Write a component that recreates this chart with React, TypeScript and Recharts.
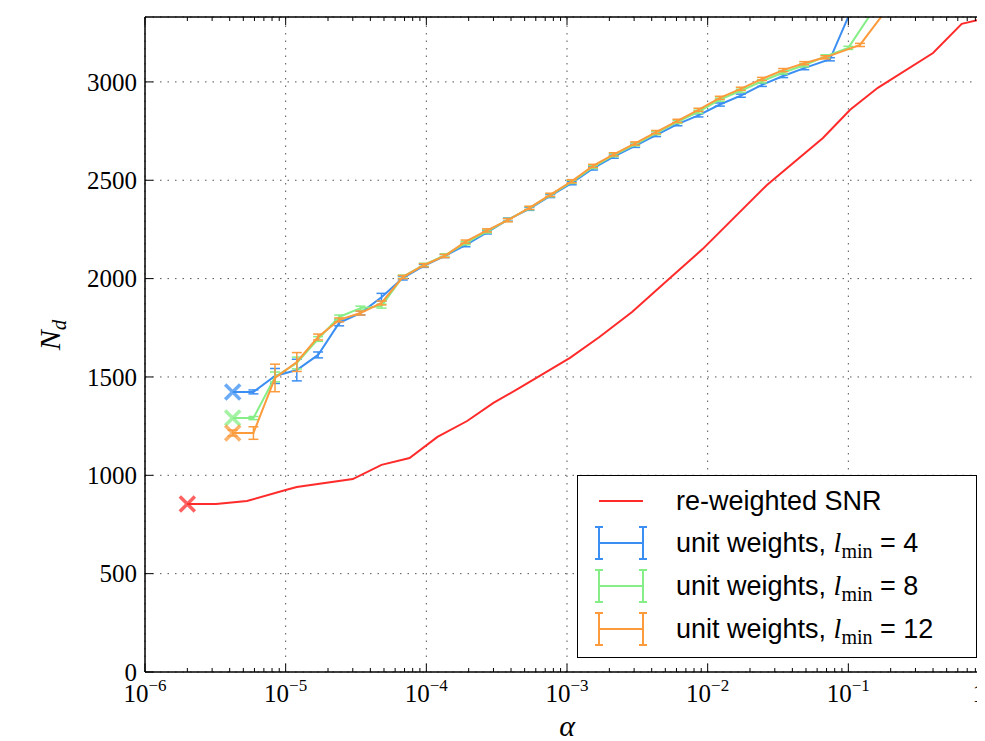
import React from 'react';
import { LineChart, Line, XAxis, YAxis, CartesianGrid, ErrorBar, Legend, ReferenceLine } from 'recharts';

const decades = [1e-6, 1e-5, 1e-4, 1e-3, 1e-2, 1e-1, 1];
const decadeExp = ['\u22126', '\u22125', '\u22124', '\u22123', '\u22122', '\u22121', ''];
const yTicks = [0, 500, 1000, 1500, 2000, 2500, 3000];

const snrAlpha = [2e-6, 3.2e-6, 5.3e-6, 1.0e-5, 1.2e-5, 3.0e-5, 4.8e-5, 7.6e-5, 1.2e-4, 1.95e-4, 3.0e-4, 4.6e-4, 1.05e-3, 1.7e-3, 2.9e-3, 5.4e-3, 9.2e-3, 2.64e-2, 6.6e-2, 0.103, 0.162, 0.4, 0.64, 0.9, 1.0];
const snrNd = [854, 854, 869, 925, 940, 981, 1053, 1088, 1195, 1276, 1368, 1444, 1597, 1703, 1830, 2003, 2150, 2476, 2715, 2858, 2970, 3147, 3295, 3320, 3325];

const l4Alpha = [4.2e-6, 5.9e-6, 8.4e-6, 1.2e-5, 1.7e-5, 2.4e-5, 3.4e-5, 4.8e-5, 6.8e-5, 9.6e-5, 1.35e-4, 1.9e-4, 2.7e-4, 3.8e-4, 5.4e-4, 7.6e-4, 1.08e-3, 1.53e-3, 2.15e-3, 3.05e-3, 4.3e-3, 6.1e-3, 8.6e-3, 1.22e-2, 1.72e-2, 2.43e-2, 3.44e-2, 4.86e-2, 7.4e-2, 0.11];
const l4Nd = [1424, 1424, 1505, 1535, 1612, 1775, 1825, 1905, 2003, 2065, 2115, 2170, 2235, 2300, 2355, 2420, 2485, 2560, 2620, 2675, 2730, 2785, 2830, 2885, 2930, 2985, 3030, 3070, 3115, 3400];
const l4Err = [0, 10, 38, 55, 15, 15, 10, 20, 10, 8, 8, 8, 8, 8, 8, 8, 8, 8, 8, 8, 8, 8, 8, 8, 8, 8, 8, 8, 8, 0];

const l8Alpha = [4.2e-6, 5.9e-6, 8.4e-6, 1.2e-5, 1.7e-5, 2.4e-5, 3.4e-5, 4.8e-5, 6.8e-5, 9.6e-5, 1.35e-4, 1.9e-4, 2.7e-4, 3.8e-4, 5.4e-4, 7.6e-4, 1.08e-3, 1.53e-3, 2.15e-3, 3.05e-3, 4.3e-3, 6.1e-3, 8.6e-3, 1.22e-2, 1.72e-2, 2.43e-2, 3.44e-2, 4.86e-2, 6.87e-2, 0.1, 0.16];
const l8Nd = [1291, 1291, 1500, 1571, 1693, 1805, 1850, 1860, 2010, 2070, 2118, 2180, 2240, 2298, 2358, 2424, 2492, 2568, 2628, 2683, 2740, 2797, 2848, 2910, 2955, 3003, 3048, 3085, 3130, 3173, 3393];
const l8Err = [0, 8, 25, 30, 12, 10, 10, 10, 8, 8, 8, 8, 8, 8, 8, 8, 8, 8, 8, 8, 8, 8, 8, 8, 8, 8, 8, 8, 8, 8, 0];

const l12Alpha = [4.2e-6, 5.9e-6, 8.4e-6, 1.2e-5, 1.7e-5, 2.4e-5, 3.4e-5, 4.8e-5, 6.8e-5, 9.6e-5, 1.35e-4, 1.9e-4, 2.7e-4, 3.8e-4, 5.4e-4, 7.6e-4, 1.08e-3, 1.53e-3, 2.15e-3, 3.05e-3, 4.3e-3, 6.1e-3, 8.6e-3, 1.22e-2, 1.72e-2, 2.43e-2, 3.44e-2, 4.86e-2, 6.87e-2, 0.121, 0.21];
const l12Nd = [1215, 1215, 1495, 1576, 1703, 1790, 1825, 1876, 2008, 2068, 2115, 2188, 2245, 2297, 2360, 2426, 2495, 2573, 2632, 2687, 2745, 2802, 2858, 2919, 2965, 3015, 3060, 3095, 3125, 3188, 3415];
const l12Err = [15, 32, 70, 48, 15, 10, 10, 10, 8, 8, 8, 8, 8, 8, 8, 8, 8, 8, 8, 8, 8, 8, 8, 8, 8, 8, 8, 8, 8, 8, 0];

const legendLabels = ['re-weighted SNR', 'unit weights, ', 'unit weights, ', 'unit weights, '];
const legendLmin = ['', '4', '8', '12'];

const COLORS = { red: '#ff2b2b', blue: '#3b8ff2', green: '#86ee86', orange: '#fb9b3c' };

const build = (a: number[], v: number[], e?: number[]) =>
  a.map((x, i) => ({ a: x, v: v[i], e: e ? e[i] : 0 }));

const snrData = build(snrAlpha, snrNd);
const l4Data = build(l4Alpha, l4Nd, l4Err);
const l8Data = build(l8Alpha, l8Nd, l8Err);
const l12Data = build(l12Alpha, l12Nd, l12Err);

const minorTicks: number[] = [];
decades.slice(0, -1).forEach((d) => {
  for (let k = 1; k <= 9; k++) minorTicks.push(d * k);
});
minorTicks.push(1);

const SERIF = '"Liberation Serif", "DejaVu Serif", serif';
const SANS = '"Liberation Sans", Arial, sans-serif';

const decadeIndex = (v: number) =>
  decades.findIndex((d) => Math.abs(Math.log10(d) - Math.log10(v)) < 1e-6);

const BottomTick = (props: any) => {
  const { x, y, payload } = props;
  const idx = decadeIndex(payload.value);
  const major = idx >= 0;
  const isOne = major && decadeExp[idx] === '';
  return (
    <g>
      <line x1={x} x2={x} y1={y} y2={y - (major ? 8 : 4)} stroke="#000" strokeWidth={1} />
      {major && (
        <text
          x={isOne ? x - 4 : x}
          y={y + 30}
          textAnchor={isOne ? 'end' : 'middle'}
          fontFamily={SERIF}
          fontSize={25}
          fill="#000"
        >
          {isOne ? '1' : '10'}
          {!isOne && (
            <tspan dy={-11} fontSize={17}>
              {decadeExp[idx]}
            </tspan>
          )}
        </text>
      )}
    </g>
  );
};

const TopTick = (props: any) => {
  const { x, y, payload } = props;
  const major = decadeIndex(payload.value) >= 0;
  return <line x1={x} x2={x} y1={y} y2={y + (major ? 8 : 4)} stroke="#000" strokeWidth={1} />;
};

const LeftTick = (props: any) => {
  const { x, y, payload } = props;
  return (
    <g>
      <line x1={x} x2={x + 8} y1={y} y2={y} stroke="#000" strokeWidth={1} />
      <text x={x - 8} y={y} dy="0.35em" textAnchor="end" fontFamily={SERIF} fontSize={25} fill="#000">
        {payload.value}
      </text>
    </g>
  );
};

const RightTick = (props: any) => {
  const { x, y } = props;
  return <line x1={x} x2={x - 8} y1={y} y2={y} stroke="#000" strokeWidth={1} />;
};

const makeMarker = (color: string) => (props: any) => {
  const { cx, cy, index } = props;
  if (index !== 0 || cx == null || cy == null) return <g key={`m-${index}`} />;
  const s = 7.5;
  return (
    <g key={`m-${index}`} opacity={0.75}>
      <line x1={cx - s} y1={cy - s} x2={cx + s} y2={cy + s} stroke={color} strokeWidth={3.5} />
      <line x1={cx - s} y1={cy + s} x2={cx + s} y2={cy - s} stroke={color} strokeWidth={3.5} />
    </g>
  );
};

const ErrIcon = ({ y, color }: { y: number; color: string }) => (
  <g stroke={color} strokeWidth={2}>
    <line x1={21} x2={65} y1={y} y2={y} />
    <line x1={21} x2={21} y1={y - 16} y2={y + 16} />
    <line x1={65} x2={65} y1={y - 16} y2={y + 16} />
    <line x1={17} x2={25} y1={y - 16} y2={y - 16} />
    <line x1={17} x2={25} y1={y + 16} y2={y + 16} />
    <line x1={61} x2={69} y1={y - 16} y2={y - 16} />
    <line x1={61} x2={69} y1={y + 16} y2={y + 16} />
  </g>
);

const LegendBox = () => {
  const rows = [25, 67, 110, 153];
  const cols = [COLORS.red, COLORS.blue, COLORS.green, COLORS.orange];
  return (
    <div style={{ width: 400, height: 183, boxSizing: 'border-box', border: '1.5px solid #000', background: '#fff' }}>
      <svg width={397} height={180} style={{ display: 'block' }}>
        <line x1={21} x2={65} y1={rows[0]} y2={rows[0]} stroke={COLORS.red} strokeWidth={2} />
        {rows.slice(1).map((r, i) => (
          <ErrIcon key={i} y={r} color={cols[i + 1]} />
        ))}
        {rows.map((r, i) => (
          <text key={`t${i}`} x={98} y={r + 9} fontFamily={SANS} fontSize={27} fill="#000">
            {legendLabels[i]}
            {i > 0 && (
              <>
                <tspan fontFamily={SERIF} fontStyle="italic" fontSize={28}>l</tspan>
                <tspan fontFamily={SERIF} fontSize={20} dy={6}>min</tspan>
                <tspan dy={-6}>{' = ' + legendLmin[i]}</tspan>
              </>
            )}
          </text>
        ))}
      </svg>
    </div>
  );
};

export default function App() {
  return (
    <div style={{ width: 977, height: 733, overflow: 'hidden', position: 'relative' }}>
      <LineChart width={990} height={733} margin={{ top: 8, right: 8, left: 0, bottom: 0 }}>
        <CartesianGrid
          stroke="#555"
          strokeDasharray="1.5 6"
          strokeWidth={1}
          xAxisId="b"
          yAxisId="l"
          vertical={false}
        />
        {decades.map((d) => (
          <ReferenceLine
            key={`g${d}`}
            x={d}
            xAxisId="b"
            yAxisId="l"
            stroke="#555"
            strokeDasharray="1.5 6"
            strokeWidth={1}
          />
        ))}
        <XAxis
          xAxisId="b"
          dataKey="a"
          type="number"
          scale="log"
          domain={[1e-6, 1]}
          allowDataOverflow
          ticks={minorTicks}
          interval={0}
          tickSize={0}
          tickMargin={0}
          tickLine={false}
          axisLine={{ stroke: '#000', strokeWidth: 1.5 }}
          tick={<BottomTick />}
          height={69}
          label={{
            content: () => (
              <text x={559} y={728} textAnchor="middle" fontFamily={SERIF} fontStyle="italic" fontSize={30} fill="#000">
                α
              </text>
            ),
          }}
        />
        <XAxis
          xAxisId="t"
          dataKey="a"
          orientation="top"
          type="number"
          scale="log"
          domain={[1e-6, 1]}
          allowDataOverflow
          ticks={minorTicks}
          interval={0}
          tickSize={0}
          tickMargin={0}
          tickLine={false}
          axisLine={{ stroke: '#000', strokeWidth: 1.5 }}
          tick={<TopTick />}
          height={1}
        />
        <YAxis
          yAxisId="l"
          type="number"
          domain={[0, 3330]}
          allowDataOverflow
          ticks={yTicks}
          interval={0}
          tickSize={0}
          tickMargin={0}
          tickLine={false}
          axisLine={{ stroke: '#000', strokeWidth: 1.5 }}
          tick={<LeftTick />}
          width={137}
          label={{
            content: () => (
              <text
                x={52}
                y={327}
                transform="rotate(-90, 52, 327)"
                textAnchor="middle"
                fontFamily={SERIF}
                fontStyle="italic"
                fontSize={30}
                fill="#000"
              >
                N<tspan fontSize={21} dy={6}>d</tspan>
              </text>
            ),
          }}
        />
        <YAxis
          yAxisId="r"
          orientation="right"
          type="number"
          domain={[0, 3330]}
          allowDataOverflow
          ticks={yTicks}
          interval={0}
          tickSize={0}
          tickMargin={0}
          tickLine={false}
          axisLine={{ stroke: '#000', strokeWidth: 1.5 }}
          tick={<RightTick />}
          width={1}
        />
        <Legend
          layout="horizontal"
          align="center"
          verticalAlign="middle"
          content={() => <LegendBox />}
          wrapperStyle={{ position: 'absolute', left: 569, top: 467, width: 400, height: 183 }}
        />
        <Line
          xAxisId="t"
          yAxisId="r"
          data={snrData}
          dataKey="v"
          stroke="none"
          dot={false}
          activeDot={false}
          legendType="none"
          isAnimationActive={false}
        />
        <Line
          xAxisId="b"
          yAxisId="l"
          data={snrData}
          dataKey="v"
          type="linear"
          stroke={COLORS.red}
          strokeWidth={2}
          dot={makeMarker(COLORS.red)}
          activeDot={false}
          isAnimationActive={false}
        />
        <Line
          xAxisId="b"
          yAxisId="l"
          data={l4Data}
          dataKey="v"
          type="linear"
          stroke={COLORS.blue}
          strokeWidth={2}
          dot={makeMarker(COLORS.blue)}
          activeDot={false}
          isAnimationActive={false}
        >
          <ErrorBar dataKey="e" direction="y" width={5} stroke={COLORS.blue} strokeWidth={1.5} />
        </Line>
        <Line
          xAxisId="b"
          yAxisId="l"
          data={l8Data}
          dataKey="v"
          type="linear"
          stroke={COLORS.green}
          strokeWidth={2}
          dot={makeMarker(COLORS.green)}
          activeDot={false}
          isAnimationActive={false}
        >
          <ErrorBar dataKey="e" direction="y" width={5} stroke={COLORS.green} strokeWidth={1.5} />
        </Line>
        <Line
          xAxisId="b"
          yAxisId="l"
          data={l12Data}
          dataKey="v"
          type="linear"
          stroke={COLORS.orange}
          strokeWidth={2}
          dot={makeMarker(COLORS.orange)}
          activeDot={false}
          isAnimationActive={false}
        >
          <ErrorBar dataKey="e" direction="y" width={5} stroke={COLORS.orange} strokeWidth={1.5} />
        </Line>
      </LineChart>
    </div>
  );
}
